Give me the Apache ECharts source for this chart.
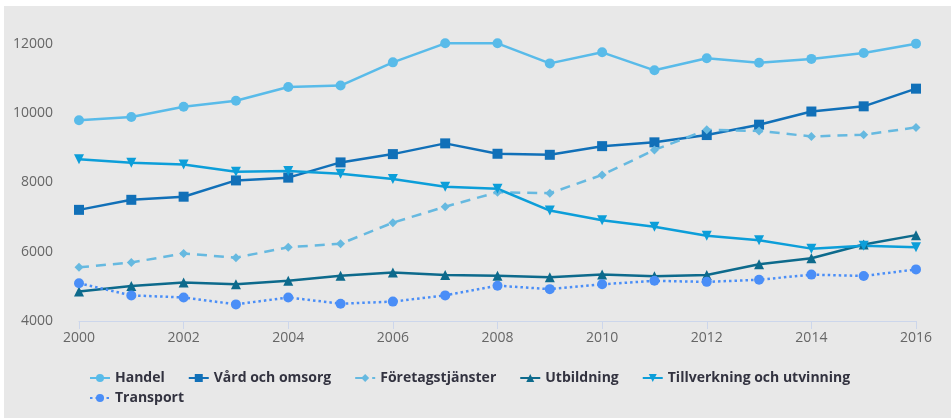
<!DOCTYPE html>
<html>
<head>
    <meta charset="utf-8">
    <title></title>
    <style type="text/css">
        body { margin: 0; background: #ffffff; }
        #main {
            position: absolute;
            left: 4px;
            top: 6px;
            width: 947px;
            height: 412px;
            background: #e8e8e8;
        }
    </style>
</head>
<body>
<div id="main"></div>

<script type="text/javascript" src="https://cdn.jsdelivr.net/npm/echarts@6/dist/echarts.min.js"></script>
<script type="text/javascript">
    var years = ['2000','2001','2002','2003','2004','2005','2006','2007','2008',
                 '2009','2010','2011','2012','2013','2014','2015','2016'];

    var handel       = [9800, 9890, 10190, 10360, 10760, 10800, 11470, 12020, 12020, 11440, 11760, 11240, 11590, 11460, 11570, 11740, 12010];
    var vard         = [7210, 7500, 7590, 8060, 8140, 8580, 8820, 9130, 8830, 8800, 9050, 9160, 9370, 9670, 10050, 10200, 10710];
    var foretag      = [5550, 5690, 5950, 5830, 6130, 6230, 6840, 7300, 7720, 7690, 8220, 8940, 9520, 9490, 9330, 9380, 9590];
    var utbildning   = [4850, 5010, 5110, 5060, 5160, 5310, 5400, 5330, 5310, 5260, 5340, 5290, 5330, 5640, 5810, 6210, 6480];
    var tillverkning = [8670, 8570, 8520, 8310, 8330, 8250, 8100, 7880, 7820, 7190, 6910, 6720, 6460, 6330, 6090, 6170, 6130];
    var transport    = [5090, 4740, 4680, 4480, 4680, 4500, 4560, 4740, 5020, 4920, 5060, 5160, 5130, 5190, 5340, 5300, 5490];

    var myChart = echarts.init(document.getElementById('main'));

    function line(name, data, color, symbol, size, dash, rotate) {
        return {
            name: name,
            type: 'line',
            data: data,
            symbol: symbol,
            symbolSize: size,
            symbolRotate: rotate || 0,
            showAllSymbol: true,
            clip: false,
            color: color,
            itemStyle: { color: color },
            lineStyle: { color: color, width: 2.5, type: dash || 'solid' }
        };
    }

    myChart.setOption({
        animation: false,
        grid: { left: 75, right: 35, top: 38, bottom: 97 },
        legend: {
            left: 80,
            top: 360,
            width: 800,
            itemWidth: 20,
            itemHeight: 10,
            itemGap: 6,
            textStyle: {
                fontFamily: 'Open Sans',
                fontWeight: 'bold',
                fontSize: 14,
                lineHeight: 14,
                color: '#333340',
                padding: [0, 17, 0, 0]
            }
        },
        xAxis: {
            type: 'category',
            data: years,
            boundaryGap: false,
            axisLine: { lineStyle: { color: '#ccd6eb', width: 1 } },
            axisTick: { interval: 1, length: 8, lineStyle: { color: '#ccd6eb' } },
            axisLabel: { interval: 1, margin: 10, color: '#666666', fontSize: 14, fontFamily: 'Open Sans' },
            splitLine: { show: false }
        },
        yAxis: {
            type: 'value',
            min: 4000,
            max: 12000,
            interval: 2000,
            axisLine: { show: false },
            axisTick: { show: false },
            splitLine: { show: false },
            axisLabel: {
                margin: 26, color: '#666666', fontSize: 14, fontFamily: 'Open Sans',
                formatter: function (v) { return String(v); }
            }
        },
        series: [
            line('Handel', handel, '#59bbe9', 'circle', 10),
            line('Vård och omsorg', vard, '#1170b8', 'rect', 10),
            line('Företagstjänster', foretag, '#66b9e0', 'diamond', 9, [10, 7]),
            line('Utbildning', utbildning, '#0d6a8c', 'triangle', 10),
            line('Tillverkning och utvinning', tillverkning, '#0c9ed9', 'triangle', 10, 'solid', 180),
            line('Transport', transport, '#4a8ef7', 'circle', 10, [2.5, 3])
        ]
    });
</script>

</body>
</html>
